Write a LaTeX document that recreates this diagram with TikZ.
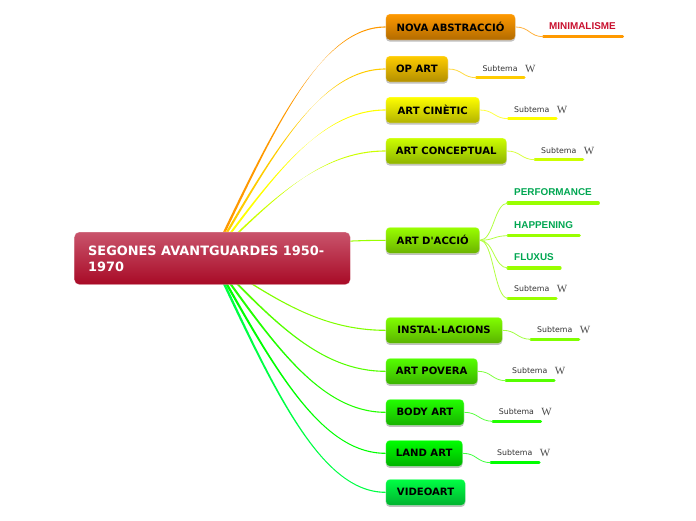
\documentclass[tikz,border=0pt]{standalone}
\usepackage{fontspec}
\usetikzlibrary{shadows,calc}
\newfontfamily\dv{DejaVu Sans}
\newfontfamily\lib{Liberation Sans}
\newfontfamily\ser{Liberation Serif}
\definecolor{cNova}{HTML}{FF9900}\definecolor{cOp}{HTML}{FFCC00}
\definecolor{cCin}{HTML}{FFFF00}\definecolor{cCon}{HTML}{CCFF00}
\definecolor{cAcc}{HTML}{99FF00}\definecolor{cIns}{HTML}{80FF00}
\definecolor{cPov}{HTML}{55FF00}\definecolor{cBod}{HTML}{22FF00}
\definecolor{cLan}{HTML}{00FF00}\definecolor{cVid}{HTML}{00FF44}
\definecolor{rootTop}{HTML}{C9546C}\definecolor{rootBot}{HTML}{A80A26}
\definecolor{redT}{HTML}{C8102E}\definecolor{greenT}{HTML}{00A651}
\tikzset{
  topic/.style={rectangle,rounded corners=4pt,minimum height=26pt,inner xsep=0pt,inner ysep=0pt,
    anchor=west,top color=#1,bottom color=#1!70!black,draw=white,draw opacity=.35,line width=.6pt,
    font=\dv\bfseries\fontsize{10.1}{13}\selectfont,text=black,
    drop shadow={shadow xshift=0pt,shadow yshift=-1.6pt,fill=black,opacity=.25}},
  rootbox/.style={rectangle,rounded corners=5pt,anchor=north west,top color=rootTop,bottom color=rootBot,
    draw=white,draw opacity=.4,line width=.6pt,minimum width=276pt,minimum height=52.6pt},
  roottext/.style={anchor=north west,inner sep=0pt,align=left,text=white,font=\dv\bfseries\fontsize{12.9}{16}\selectfont},
  subt/.style={anchor=west,inner sep=0pt,font=\dv\fontsize{7.8}{10}\selectfont,text=black!80},
  wiki/.style={anchor=center,inner sep=0pt,font=\ser\fontsize{11}{12}\selectfont,text=black!70},
  labelg/.style={anchor=west,inner sep=0pt,font=\lib\bfseries\fontsize{9.9}{12}\selectfont,text=greenT},
  labelr/.style={anchor=west,inner sep=0pt,font=\lib\bfseries\fontsize{9.9}{12}\selectfont,text=redT},
  bar/.style={line width=3.2pt,line cap=round,color=#1},
  sublink/.style={line width=.8pt,color=#1!75!white},
}
% tapered branch from the root to a topic
\newcommand{\branch}[3]{%
  \fill[#3] let \p1=(#1),\p2=(#2.west),\n1={\x2-\x1},\n2={\y2-\y1} in
    (\x1+1.4pt,\y1) .. controls (\x1+.35*\n1+1.1pt,\y1+.55*\n2) and (\x1+.62*\n1,\y2+.6pt) .. (\x2,\y2+.55pt)
    -- (\x2,\y2-.55pt) .. controls (\x1+.62*\n1,\y2-.6pt) and (\x1+.35*\n1-1.1pt,\y1+.55*\n2) .. (\x1-1.4pt,\y1) -- cycle;}
\newcommand{\sublnk}[3]{\draw[sublink=#3] (#1.east) .. controls +(14,0) and +(-14,0) .. (#2);}
\pgfdeclarelayer{back}\pgfsetlayers{back,main}
\begin{document}
\begin{tikzpicture}[x=1pt,y=-1pt]
\useasboundingbox (0,0) rectangle (696,520);
\coordinate (hub) at (212,258);
\node[rootbox] (root) at (74,231.7) {};
\node[roottext] (roottxt) at (88,246) {SEGONES AVANTGUARDES 1950-\\1970};
\node[topic=cNova,minimum width=129.5pt] (nova) at (385.5,27) {NOVA ABSTRACCIÓ};
\node[topic=cOp,minimum width=62.2pt] (op) at (385.5,69) {OP ART};
\node[topic=cCin,minimum width=93.8pt] (cin) at (385.5,110) {ART CINÈTIC};
\node[topic=cCon,minimum width=120.8pt] (con) at (385.5,151) {ART CONCEPTUAL};
\node[topic=cAcc,minimum width=93.8pt] (acc) at (385.5,240.3) {ART D'ACCIÓ};
\node[topic=cIns,minimum width=116.5pt] (ins) at (385.5,330.3) {INSTAL·LACIONS};
\node[topic=cPov,minimum width=91.8pt] (pov) at (385.5,371.3) {ART POVERA};
\node[topic=cBod,minimum width=78.2pt] (bod) at (385.5,412.3) {BODY ART};
\node[topic=cLan,minimum width=76.8pt] (lan) at (385.5,453.3) {LAND ART};
\node[topic=cVid,minimum width=79.5pt] (vid) at (385.5,492.3) {VIDEOART};
\begin{pgfonlayer}{back}
\branch{hub}{nova}{cNova}\branch{hub}{op}{cOp}\branch{hub}{cin}{cCin}\branch{hub}{con}{cCon}\branch{hub}{acc}{cAcc}
\branch{hub}{ins}{cIns}\branch{hub}{pov}{cPov}\branch{hub}{bod}{cBod}\branch{hub}{lan}{cLan}\branch{hub}{vid}{cVid}
\end{pgfonlayer}
% sub-topics
\node[labelr] (min) at (549,26.5) {MINIMALISME};
\coordinate (b1a) at (543.5,36.7); \coordinate (b1b) at (622.5,36.7);
\draw[bar=cNova] (b1a) -- (b1b); \sublnk{nova}{b1a}{cNova}

\node[subt] (s2) at (482.3,68.8) {Subtema}; \node[wiki] (w2) at (530.3,68.6) {W};
\coordinate (b2a) at (476.5,77.7); \coordinate (b2b) at (524,77.7);
\draw[bar=cOp] (b2a) -- (b2b); \sublnk{op}{b2a}{cOp}

\node[subt] (s3) at (514,109.8) {Subtema}; \node[wiki] (w3) at (562,109.6) {W};
\coordinate (b3a) at (508.3,118.7); \coordinate (b3b) at (556,118.7);
\draw[bar=cCin] (b3a) -- (b3b); \sublnk{cin}{b3a}{cCin}

\node[subt] (s4) at (541,150.8) {Subtema}; \node[wiki] (w4) at (589,150.6) {W};
\coordinate (b4a) at (535,159.7); \coordinate (b4b) at (582.7,159.7);
\draw[bar=cCon] (b4a) -- (b4b); \sublnk{con}{b4a}{cCon}

\node[labelg] (perf) at (514,192.2) {PERFORMANCE};
\coordinate (b5a) at (508,203); \coordinate (b5b) at (598.3,203);
\draw[bar=cAcc] (b5a) -- (b5b); \sublnk{acc}{b5a}{cAcc}
\node[labelg] (hap) at (514,225.2) {HAPPENING};
\coordinate (b6a) at (508,235.7); \coordinate (b6b) at (579.3,235.7);
\draw[bar=cAcc] (b6a) -- (b6b); \sublnk{acc}{b6a}{cAcc}
\node[labelg] (flu) at (514,257.2) {FLUXUS};
\coordinate (b7a) at (508,268); \coordinate (b7b) at (560,268);
\draw[bar=cAcc] (b7a) -- (b7b); \sublnk{acc}{b7a}{cAcc}
\node[subt] (s8) at (514,288.8) {Subtema}; \node[wiki] (w8) at (562,288.6) {W};
\coordinate (b8a) at (508,298.3); \coordinate (b8b) at (556,298.3);
\draw[bar=cAcc] (b8a) -- (b8b); \sublnk{acc}{b8a}{cAcc}

\node[subt] (s9) at (537,330) {Subtema}; \node[wiki] (w9) at (585,330) {W};
\coordinate (b9a) at (531,339.3); \coordinate (b9b) at (578.7,339.3);
\draw[bar=cIns] (b9a) -- (b9b); \sublnk{ins}{b9a}{cIns}

\node[subt] (s10) at (512,370.8) {Subtema}; \node[wiki] (w10) at (560,370.8) {W};
\coordinate (b10a) at (506,380.7); \coordinate (b10b) at (554,380.7);
\draw[bar=cPov] (b10a) -- (b10b); \sublnk{pov}{b10a}{cPov}

\node[subt] (s11) at (498.7,411.8) {Subtema}; \node[wiki] (w11) at (546.5,411.8) {W};
\coordinate (b11a) at (493,421.3); \coordinate (b11b) at (540.5,421.3);
\draw[bar=cBod] (b11a) -- (b11b); \sublnk{bod}{b11a}{cBod}

\node[subt] (s12) at (497,453) {Subtema}; \node[wiki] (w12) at (545,453) {W};
\coordinate (b12a) at (491,462.7); \coordinate (b12b) at (539,462.7);
\draw[bar=cLan] (b12a) -- (b12b); \sublnk{lan}{b12a}{cLan}
\end{tikzpicture}
\end{document}
